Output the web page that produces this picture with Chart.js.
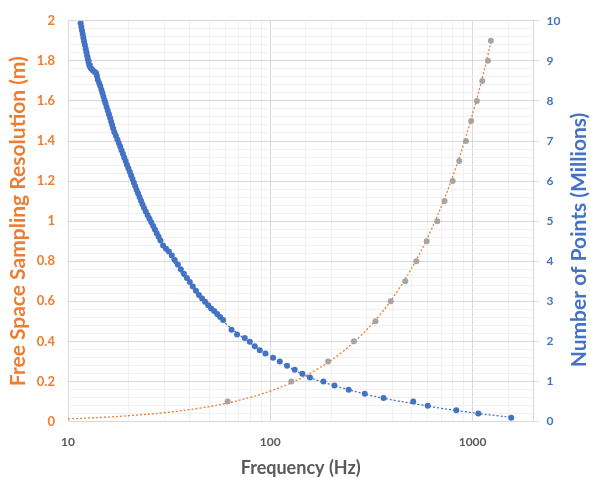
<!DOCTYPE html>
<html>
<head>
<meta charset="utf-8">
<script src="https://cdn.jsdelivr.net/npm/chart.js@4.4.0/dist/chart.umd.min.js"></script>
<style>
  html, body { margin: 0; padding: 0; background: #fff; }
  #wrap { width: 590px; height: 478px; position: relative; }
</style>
</head>
<body>
<div id="wrap"><canvas id="chart"></canvas></div>
<script>
// free space sampling resolution (m) vs frequency - grey points, left axis
const resFreqs = [61.5, 127, 193, 259, 331, 394, 465, 527, 593, 669, 727, 797, 859, 927, 984, 1050, 1116, 1190, 1231];
const resValues = [0.1, 0.2, 0.3, 0.4, 0.5, 0.6, 0.7, 0.8, 0.9, 1.0, 1.1, 1.2, 1.3, 1.4, 1.5, 1.6, 1.7, 1.8, 1.9];

// orange dotted trend line
const resTrendFreqs = [10, 15, 20, 30, 45, 60, 80, 100, 130, 170, 220, 280, 350, 430, 520, 620, 720, 820, 920, 1020, 1120, 1240];
const resTrendValues = [0.013, 0.021, 0.029, 0.044, 0.067, 0.09, 0.121, 0.152, 0.198, 0.26, 0.336, 0.428, 0.535, 0.658, 0.796, 0.95, 1.104, 1.258, 1.412, 1.566, 1.72, 1.905];

// number of points (millions) vs frequency - blue points, right axis
const ptsFreqs = [
  11.55, 11.64, 11.73, 11.82, 11.91, 12.01, 12.11, 12.22, 12.32, 12.42,
  12.53, 12.64, 12.76, 12.95, 13.12, 13.29, 13.52, 13.76, 13.90, 14.04,
  14.25, 14.44, 14.63, 14.80, 14.97, 15.15, 15.32, 15.52, 15.72, 15.93,
  16.14, 16.34, 16.53, 16.73, 16.95, 17.25, 17.55, 17.83, 18.11, 18.39,
  18.68, 18.97, 19.27, 19.56, 19.88, 20.2, 20.52, 20.84, 21.17, 21.5,
  21.84, 22.2, 22.58, 22.96, 23.34, 23.76, 24.24, 24.76, 25.28, 25.8,
  26.37, 26.9, 27.46, 28.05, 28.64,
  29.5, 30.5, 31.5, 32.6, 33.7, 34.9, 36.1, 37.4, 38.7, 40.0,
  41.4, 42.9, 44.4, 46.0, 47.6, 49.3, 51.0, 52.8, 54.6, 56.5, 58.5,
  64.3, 68.5, 74.8, 79.2, 83.8, 88.7, 94.6, 103.2, 111.4, 121,
  132, 144, 157, 183, 207.5, 244, 293, 363, 509, 600, 831, 1067, 1553
];
const ptsValues = [
  9.94, 9.85, 9.76, 9.67, 9.58, 9.49, 9.40, 9.31, 9.22, 9.13,
  9.04, 8.96, 8.88, 8.82, 8.79, 8.76, 8.73, 8.70, 8.62, 8.53,
  8.45, 8.37, 8.28, 8.20, 8.11, 8.02, 7.94, 7.85, 7.76, 7.67,
  7.58, 7.49, 7.40, 7.31, 7.22, 7.13, 7.04, 6.95, 6.86, 6.77,
  6.68, 6.59, 6.50, 6.41, 6.32, 6.23, 6.14, 6.05, 5.96, 5.87,
  5.78, 5.69, 5.60, 5.51, 5.42, 5.33, 5.24, 5.15, 5.06, 4.97,
  4.88, 4.79, 4.70, 4.61, 4.52,
  4.39, 4.31, 4.24, 4.14, 4.03, 3.92, 3.80, 3.69, 3.58, 3.48,
  3.37, 3.26, 3.16, 3.07, 2.99, 2.90, 2.82, 2.76, 2.68, 2.61, 2.53,
  2.29, 2.17, 2.086, 1.99, 1.88, 1.78, 1.70, 1.594, 1.496, 1.39,
  1.29, 1.19, 1.10, 0.996, 0.90, 0.79, 0.69, 0.585, 0.497, 0.39, 0.28, 0.20, 0.095
];

// blue dotted trend line
const ptsTrendFreqs = [11.5, 15, 20, 30, 45, 60, 80, 100, 130, 160, 200, 250, 320, 420, 550, 700, 900, 1100, 1350, 1553];
const ptsTrendValues = [9.9, 8.0, 6.2, 4.35, 3.1, 2.45, 1.95, 1.62, 1.3, 1.08, 0.92, 0.78, 0.64, 0.52, 0.42, 0.33, 0.25, 0.19, 0.14, 0.1];

const xMajorTicks = [10, 100, 1000];

const ORANGE = '#ED7D31';
const BLUE = '#4472C4';
const GREY_DOT = '#A5A5A5';
const TEXT_GREY = '#595959';
const GRID_MAJOR = '#D9D9D9';
const GRID_MINOR = '#F0F0F0';
const FONT = 'Lato';

const toXY = (xs, ys) => xs.map((x, i) => ({ x: x, y: ys[i] }));

// right axis title reads bottom-to-top, chart.js would rotate it the other way
const rightTitlePlugin = {
  id: 'rightTitle',
  afterDraw(chart) {
    const ctx = chart.ctx;
    ctx.save();
    ctx.translate(579, 240);
    ctx.rotate(-Math.PI / 2);
    ctx.font = 'bold 21px ' + FONT;
    ctx.fillStyle = BLUE;
    ctx.textAlign = 'center';
    ctx.textBaseline = 'middle';
    ctx.fillText('Number of Points (Millions)', 0, 0);
    ctx.restore();
  }
};

const ctx = document.getElementById('chart').getContext('2d');
new Chart(ctx, {
  type: 'scatter',
  data: {
    datasets: [
      {
        label: 'Resolution',
        data: toXY(resFreqs, resValues),
        yAxisID: 'y',
        backgroundColor: GREY_DOT,
        borderWidth: 0,
        pointRadius: 3,
        order: 0
      },
      {
        label: 'Number of Points',
        data: toXY(ptsFreqs, ptsValues),
        yAxisID: 'y2',
        backgroundColor: BLUE,
        borderWidth: 0,
        pointRadius: 3,
        order: 0
      },
      {
        label: 'Resolution trend',
        type: 'line',
        data: toXY(resTrendFreqs, resTrendValues),
        yAxisID: 'y',
        borderColor: ORANGE,
        borderWidth: 1.3,
        borderDash: [2, 2],
        pointRadius: 0,
        tension: 0.4,
        fill: false,
        order: 1
      },
      {
        label: 'Points trend',
        type: 'line',
        data: toXY(ptsTrendFreqs, ptsTrendValues),
        yAxisID: 'y2',
        borderColor: BLUE,
        borderWidth: 1.3,
        borderDash: [2, 2],
        pointRadius: 0,
        tension: 0.4,
        fill: false,
        order: 1
      }
    ]
  },
  options: {
    responsive: true,
    maintainAspectRatio: false,
    animation: false,
    layout: { padding: { top: 15, left: 0, right: 0, bottom: 0 } },
    plugins: {
      legend: { display: false },
      tooltip: { enabled: false }
    },
    scales: {
      x: {
        type: 'logarithmic',
        min: 10,
        max: 2000,
        afterFit: (scale) => { scale.height = 56.5; },
        border: { display: true, color: GRID_MAJOR },
        grid: {
          drawTicks: false,
          color: (c) => (c.tick && xMajorTicks.includes(c.tick.value)) ? GRID_MAJOR : GRID_MINOR
        },
        ticks: {
          autoSkip: false,
          maxRotation: 0,
          padding: 13,
          color: TEXT_GREY,
          font: { family: FONT, size: 12, weight: 'bold' },
          callback: (v) => xMajorTicks.includes(v) ? String(v) : ''
        },
        title: {
          display: true,
          text: 'Frequency (Hz)',
          color: TEXT_GREY,
          font: { family: FONT, size: 18, weight: 'bold' },
          padding: { top: 0, bottom: -1 }
        }
      },
      y: {
        position: 'left',
        min: 0,
        max: 2,
        afterFit: (scale) => { scale.width = 68; },
        border: { display: false },
        grid: {
          drawTicks: false,
          color: (c) => (Math.round(c.tick.value * 100) % 20 === 0) ? GRID_MAJOR : GRID_MINOR
        },
        ticks: {
          stepSize: 0.04,
          autoSkip: false,
          padding: 13,
          color: ORANGE,
          font: { family: FONT, size: 13, weight: 'bold' },
          callback: (v) => (Math.round(v * 100) % 20 === 0) ? String(Math.round(v * 10) / 10) : ''
        },
        title: {
          display: true,
          text: 'Free Space Sampling Resolution (m)',
          color: ORANGE,
          font: { family: FONT, size: 21, weight: 'bold' },
          padding: { top: 6, bottom: 0 }
        }
      },
      y2: {
        position: 'right',
        min: 0,
        max: 10,
        afterFit: (scale) => { scale.width = 56.5; },
        border: { display: true, color: GRID_MAJOR },
        grid: {
          drawOnChartArea: false,
          drawTicks: true,
          tickLength: 5,
          color: GRID_MAJOR
        },
        ticks: {
          stepSize: 1,
          padding: 8,
          color: BLUE,
          font: { family: FONT, size: 12, weight: 'bold' }
        }
      }
    }
  },
  plugins: [rightTitlePlugin]
});
</script>
</body>
</html>
